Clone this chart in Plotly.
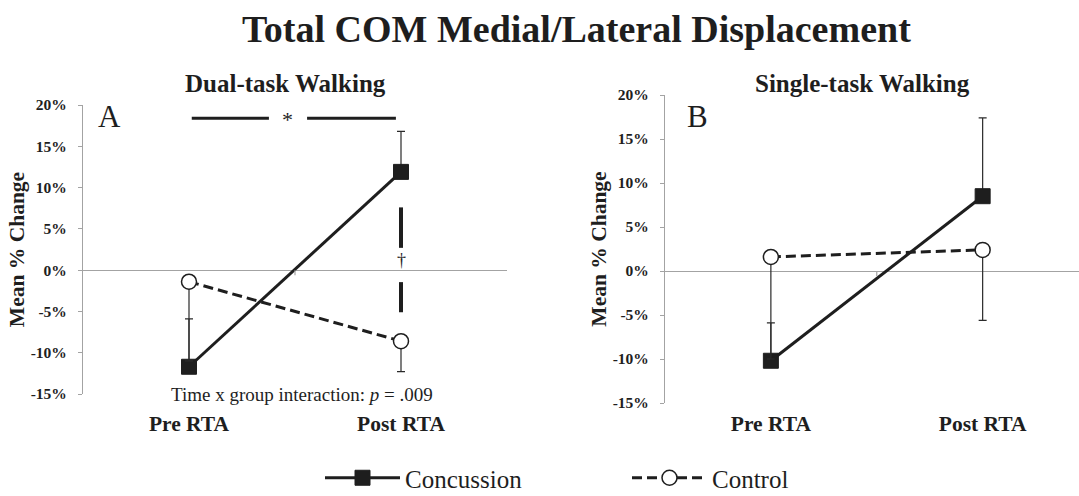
import plotly.graph_objects as go

# ---- data ----
categories = ["Pre RTA", "Post RTA"]
cat_pos = [0, 1]

dual_concussion = [-11.7, 11.9]
dual_concussion_err_up = [5.8, 4.9]
dual_control = [-1.4, -8.6]
dual_control_err_down = [9.6, 3.7]

single_concussion = [-10.2, 8.5]
single_concussion_err_up = [4.3, 8.9]
single_control = [1.6, 2.4]
single_control_err_down = [11.6, 8.0]

y_tickvals = [20, 15, 10, 5, 0, -5, -10, -15]
y_ticktext = ["20%", "15%", "10%", "5%", "0%", "-5%", "-10%", "-15%"]

SERIF = "Liberation Serif, Times New Roman, serif"
GRAY = "#a3a3a3"
INK = "#1e1e1e"
W, H = 1079, 496

fig = go.Figure()


def add_pair(xa, ya, conc, conc_up, ctrl, ctrl_down, show):
    fig.add_trace(go.Scatter(
        x=cat_pos, y=conc, xaxis=xa, yaxis=ya, name="Concussion",
        mode="lines+markers", showlegend=show, legendgroup="c",
        line=dict(color=INK, width=3),
        marker=dict(symbol="square", size=15, color=INK,
                    line=dict(color=INK, width=1)),
        error_y=dict(type="data", symmetric=False, array=conc_up,
                     arrayminus=[0, 0], color="#2a2a2a", thickness=1.2, width=4),
    ))
    fig.add_trace(go.Scatter(
        x=cat_pos, y=ctrl, xaxis=xa, yaxis=ya, name="Control",
        mode="lines+markers", showlegend=show, legendgroup="k",
        line=dict(color=INK, width=3, dash="10px,5px"),
        marker=dict(symbol="circle", size=15, color="white",
                    line=dict(color=INK, width=1.5)),
        error_y=dict(type="data", symmetric=False, array=[0, 0],
                     arrayminus=ctrl_down, color="#2a2a2a", thickness=1.2, width=4),
    ))


add_pair("x", "y", dual_concussion, dual_concussion_err_up, dual_control,
         dual_control_err_down, True)
add_pair("x2", "y2", single_concussion, single_concussion_err_up, single_control,
         single_control_err_down, False)

yaxis_common = dict(
    range=[-15, 20], tickvals=y_tickvals, ticktext=y_ticktext,
    showgrid=False, showline=True, linecolor=GRAY, linewidth=1.2,
    ticks="outside", ticklen=4, tickcolor=GRAY, tickwidth=1.2,
    ticklabelstandoff=8,
    zeroline=True, zerolinecolor=GRAY, zerolinewidth=1.2,
    tickfont=dict(family=SERIF, size=15.5, color=INK, weight="bold"),
    title=dict(text="Mean % Change", standoff=0,
               font=dict(family=SERIF, size=21.5, color=INK, weight="bold")),
    automargin=False,
)
xaxis_common = dict(
    tickvals=cat_pos, ticktext=categories, showgrid=False, showline=False,
    zeroline=False, ticks="", automargin=False,
    tickfont=dict(family=SERIF, size=21.5, color=INK, weight="bold"),
)

fig.update_layout(
    template="none",
    width=W, height=H,
    margin=dict(l=0, r=0, t=0, b=0, pad=0, autoexpand=False),
    paper_bgcolor="white", plot_bgcolor="white",
    xaxis=dict(domain=[83 / W, 507 / W], range=[-0.5, 1.5],
               anchor="y", ticklabelstandoff=14, **xaxis_common),
    yaxis=dict(domain=[1 - 394 / H, 1 - 105 / H], anchor="x", **yaxis_common),
    xaxis2=dict(domain=[665 / W, 1.0], range=[-0.5, 1.455],
                anchor="y2", ticklabelstandoff=5, **xaxis_common),
    yaxis2=dict(domain=[1 - 403 / H, 1 - 95 / H], anchor="x2", **yaxis_common),
    showlegend=True,
    legend=dict(orientation="h", x=320 / W, xanchor="left",
                y=1 - 478 / H, yanchor="middle",
                itemwidth=75, entrywidth=217, entrywidthmode="pixels",
                font=dict(family=SERIF, size=25, color=INK),
                bgcolor="rgba(0,0,0,0)"),
    font=dict(family=SERIF, color=INK),
)


def note(text, x, y, size, xanchor="center", ref=("paper", "paper")):
    fig.add_annotation(text=text, xref=ref[0], yref=ref[1], x=x, y=y,
                       xanchor=xanchor, yanchor="middle", showarrow=False,
                       font=dict(family=SERIF, size=size, color=INK))


# titles and labels (paper positions)
note("<b>Total COM Medial/Lateral Displacement</b>", 576 / W, 1 - 29 / H, 38)
note("<b>Dual-task Walking</b>", 285 / W, 1 - 84 / H, 25)
note("<b>Single-task Walking</b>", 862 / W, 1 - 84 / H, 25)
note("A", 96 / W, 1 - 117 / H, 31, xanchor="left")
note("B", 685 / W, 1 - 117 / H, 31, xanchor="left")
note("Time x group interaction: <i>p</i> = .009", 302 / W, 1 - 394 / H, 19)

# category-boundary ticks on the zero line
for xr, yr in (("x", "y"), ("x2", "y2")):
    fig.add_shape(type="line", xref=xr, yref=yr, x0=0.5, x1=0.5,
                  ysizemode="pixel", yanchor=0, y0=0, y1=-5,
                  line=dict(color=GRAY, width=1.2))

# significance markers (dual task)
sig_y = 18.4
fig.add_shape(type="line", xref="x", yref="y", x0=0.013, x1=0.377, y0=sig_y, y1=sig_y,
              line=dict(color=INK, width=3))
fig.add_shape(type="line", xref="x", yref="y", x0=0.557, x1=0.976, y0=sig_y, y1=sig_y,
              line=dict(color=INK, width=3))
note("*", 0.466, sig_y - 0.2, 22, ref=("x", "y"))
fig.add_shape(type="line", xref="x", yref="y", x0=1, x1=1, y0=7.6, y1=2.7,
              line=dict(color=INK, width=4))
fig.add_shape(type="line", xref="x", yref="y", x0=1, x1=1, y0=-1.45, y1=-5.1,
              line=dict(color=INK, width=4))
note("†", 1, 1.2, 18, ref=("x", "y"))

fig.write_html("out.html",
               config={"displayModeBar": False},
               post_script="document.body.style.margin='0';"
                           "document.body.style.overflow='hidden';")
